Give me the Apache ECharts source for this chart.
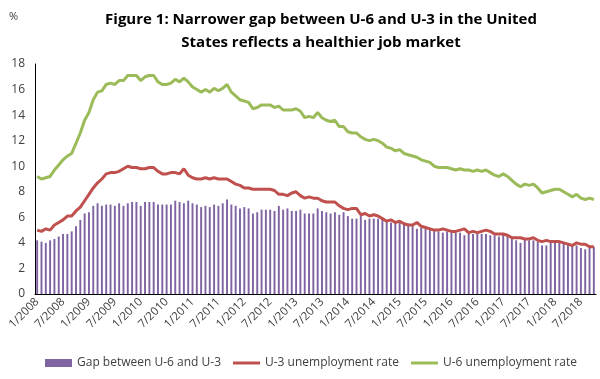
<!DOCTYPE html>
<html>
<head>
<meta charset="utf-8">
<script src="https://cdn.jsdelivr.net/npm/echarts@6/dist/echarts.min.js"></script>
<style>html,body{margin:0;padding:0;background:#fff}#c{width:600px;height:379px}</style>
</head>
<body>
<div id="c"></div>
<script>
// Months 1/2008 .. 10/2018
const months = [];
for (let y = 2008; y <= 2018; y++) {
  for (let m = 1; m <= 12; m++) {
    if (y === 2018 && m > 10) break;
    months.push(m + '/' + y);
  }
}

const u6 = [
  9.2,9.0,9.1,9.2,9.7,10.1,10.5,10.8,11.0,11.8,12.6,13.6,
  14.2,15.2,15.8,15.9,16.4,16.5,16.4,16.7,16.7,17.1,17.1,17.1,
  16.7,17.0,17.1,17.1,16.6,16.4,16.4,16.5,16.8,16.6,16.9,16.6,
  16.2,16.0,15.8,16.0,15.8,16.1,15.9,16.1,16.4,15.8,15.5,15.2,
  15.1,15.0,14.5,14.6,14.8,14.8,14.8,14.6,14.7,14.4,14.4,14.4,
  14.5,14.3,13.8,13.9,13.8,14.2,13.8,13.6,13.5,13.6,13.1,13.1,
  12.7,12.6,12.6,12.3,12.1,12.0,12.1,12.0,11.8,11.5,11.4,11.2,
  11.3,11.0,10.9,10.8,10.7,10.5,10.4,10.3,10.0,9.9,9.9,9.9,
  9.8,9.7,9.8,9.7,9.7,9.6,9.7,9.6,9.7,9.5,9.3,9.2,
  9.4,9.2,8.9,8.6,8.4,8.6,8.5,8.6,8.3,7.9,8.0,8.1,
  8.2,8.2,8.0,7.8,7.6,7.8,7.5,7.4,7.5,7.4
];

const u3 = [
  5.0,4.9,5.1,5.0,5.4,5.6,5.8,6.1,6.1,6.5,6.8,7.3,
  7.8,8.3,8.7,9.0,9.4,9.5,9.5,9.6,9.8,10.0,9.9,9.9,
  9.8,9.8,9.9,9.9,9.6,9.4,9.4,9.5,9.5,9.4,9.8,9.3,
  9.1,9.0,9.0,9.1,9.0,9.1,9.0,9.0,9.0,8.8,8.6,8.5,
  8.3,8.3,8.2,8.2,8.2,8.2,8.2,8.1,7.8,7.8,7.7,7.9,
  8.0,7.7,7.5,7.6,7.5,7.5,7.3,7.2,7.2,7.2,6.9,6.7,
  6.6,6.7,6.7,6.2,6.3,6.1,6.2,6.1,5.9,5.7,5.8,5.6,
  5.7,5.5,5.4,5.4,5.6,5.3,5.2,5.1,5.0,5.0,5.1,5.0,
  4.9,4.9,5.0,5.1,4.8,4.9,4.8,4.9,5.0,4.9,4.7,4.7,
  4.7,4.6,4.4,4.4,4.4,4.3,4.3,4.4,4.2,4.1,4.2,4.1,
  4.1,4.1,4.0,3.9,3.8,4.0,3.9,3.9,3.7,3.7
];

const gap = [
  4.2,4.1,4.0,4.2,4.3,4.5,4.7,4.7,4.9,5.3,5.8,6.3,
  6.4,6.9,7.1,6.9,7.0,7.0,6.9,7.1,6.9,7.1,7.2,7.2,
  6.9,7.2,7.2,7.2,7.0,7.0,7.0,7.0,7.3,7.2,7.1,7.3,
  7.1,7.0,6.8,6.9,6.8,7.0,6.9,7.1,7.4,7.0,6.9,6.7,
  6.8,6.7,6.3,6.4,6.6,6.6,6.6,6.5,6.9,6.6,6.7,6.5,
  6.5,6.6,6.3,6.3,6.3,6.7,6.5,6.4,6.3,6.4,6.2,6.4,
  6.1,5.9,5.9,6.1,5.8,5.9,5.9,5.9,5.9,5.8,5.6,5.6,
  5.6,5.5,5.5,5.4,5.1,5.2,5.2,5.2,5.0,4.9,4.8,4.9,
  4.9,4.8,4.8,4.6,4.9,4.7,4.9,4.7,4.7,4.6,4.6,4.5,
  4.7,4.6,4.5,4.2,4.0,4.3,4.2,4.2,4.1,3.8,3.8,4.0,
  4.1,4.1,4.0,3.9,3.8,3.8,3.6,3.5,3.8,3.7
];

const yTicks = [0,2,4,6,8,10,12,14,16,18];
const titleText = 'Figure 1: Narrower gap between U-6 and U-3 in the United\nStates reflects a healthier job market';
const names = ['Gap between U-6 and U-3', 'U-3 unemployment rate', 'U-6 unemployment rate'];

const chart = echarts.init(document.getElementById('c'), null, {renderer: 'canvas'});
const font = 'Open Sans';
const lineIcon = 'path://M0,0H27V3H0Z';
chart.setOption({
  animation: false,
  backgroundColor: '#ffffff',
  textStyle: {fontFamily: font},
  title: {
    text: titleText,
    left: 316, top: 3, textAlign: 'center',
    textStyle: {fontFamily: font, fontSize: 15, fontWeight: 'bold', color: '#000', lineHeight: 23}
  },
  graphic: [{
    type: 'text', left: 9, top: 11,
    style: {text: '%', fontFamily: font, fontSize: 11, fill: '#404040'}
  }],
  legend: {
    bottom: 5, left: 40,
    itemWidth: 27, itemHeight: 8, itemGap: 12, symbolKeepAspect: true,
    textStyle: {fontFamily: font, fontSize: 12, color: '#404040'},
    data: [{name: names[0], icon: 'rect'}, {name: names[1], icon: lineIcon}, {name: names[2], icon: lineIcon}]
  },
  grid: {left: 35, right: 4, top: 64, bottom: 85, containLabel: false},
  xAxis: {
    type: 'category', data: months,
    axisLine: {lineStyle: {color: '#000', width: 1}},
    axisTick: {show: false},
    axisLabel: {
      interval: 5, rotate: 45, fontFamily: font, fontSize: 11.5, color: '#404040', margin: 6
    }
  },
  yAxis: {
    type: 'value', min: 0, max: 18, interval: 2,
    axisLine: {show: true, lineStyle: {color: '#000', width: 1}},
    axisTick: {show: false},
    splitLine: {show: false},
    axisLabel: {fontFamily: font, fontSize: 12, color: '#404040', margin: 10,
      formatter: v => yTicks.includes(v) ? String(v) : ''}
  },
  series: [
    {name: names[0], type: 'bar', data: gap, barWidth: '45%',
     itemStyle: {color: '#8064A2'}},
    {name: names[1], type: 'line', data: u3, symbol: 'none', lineStyle: {color: '#C0504D', width: 3},
     itemStyle: {color: '#C0504D'}},
    {name: names[2], type: 'line', data: u6, symbol: 'none', lineStyle: {color: '#9BBB59', width: 3},
     itemStyle: {color: '#9BBB59'}}
  ]
});
</script>
</body>
</html>
